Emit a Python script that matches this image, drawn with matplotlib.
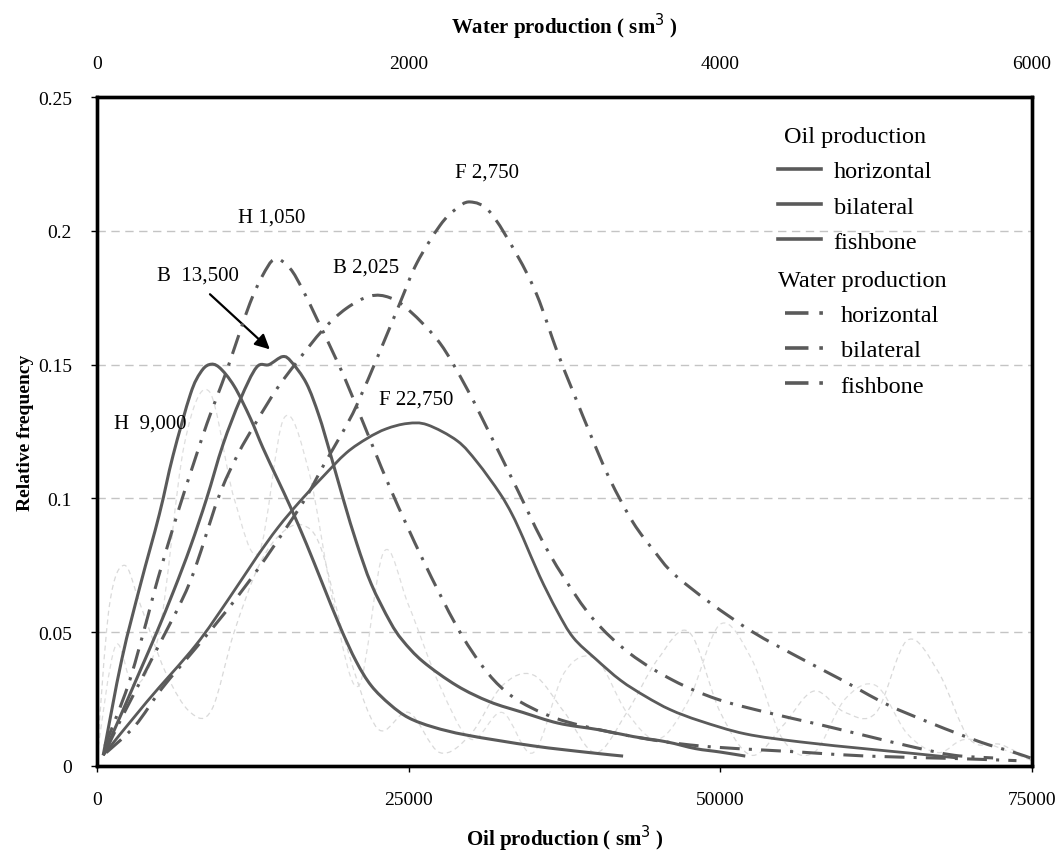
import numpy as np
import matplotlib.pyplot as plt
from matplotlib.lines import Line2D
from matplotlib.path import Path
from matplotlib.patches import PathPatch

plt.rcParams['font.family'] = ['Liberation Serif', 'DejaVu Serif']

# oil production curves (bottom axis, sm3)
oil_h_x = [500, 2000, 3500, 5000, 6100, 7500, 8300, 9000, 9800, 11000, 12300, 13300, 14500, 15500,
           16800, 18100, 19500, 20800, 22000, 23500, 25000, 27000, 29700, 35000, 39500, 42200]
oil_h_y = [0.004, 0.040, 0.068, 0.094, 0.116, 0.139, 0.147, 0.150, 0.149, 0.142, 0.130, 0.119, 0.107, 0.097,
           0.083, 0.068, 0.052, 0.039, 0.030, 0.023, 0.018, 0.0145, 0.0115, 0.0075, 0.005, 0.0037]

oil_b_x = [500, 2100, 3500, 4800, 6200, 7500, 8800, 10100, 11500, 12800, 13800, 14900, 15600, 16800,
           17800, 18700, 19800, 20850, 22000, 23500, 24500, 26150, 28870, 31500, 34170, 37000, 40300,
           43000, 45700, 48000, 50000, 52000]
oil_b_y = [0.004, 0.021, 0.036, 0.050, 0.066, 0.082, 0.100, 0.120, 0.137, 0.149, 0.150, 0.153, 0.151, 0.143,
           0.131, 0.117, 0.099, 0.083, 0.068, 0.054, 0.047, 0.039, 0.030, 0.024, 0.020, 0.016, 0.0135,
           0.011, 0.009, 0.0065, 0.0052, 0.0037]

oil_f_x = [500, 4000, 7900, 10500, 12800, 14500, 16300, 18100, 20000, 21700, 23200, 24900, 26500, 28900,
           30500, 32300, 33300, 34200, 35500, 36900, 38200, 40000, 42000, 44000, 46000, 48400, 52000, 56400,
           61700, 65000, 69000]
oil_f_y = [0.004, 0.024, 0.045, 0.062, 0.078, 0.089, 0.099, 0.108, 0.117, 0.1225, 0.126, 0.128, 0.1275, 0.1215,
           0.1135, 0.102, 0.094, 0.085, 0.071, 0.058, 0.048, 0.040, 0.032, 0.026, 0.021, 0.0168, 0.012, 0.009,
           0.0064, 0.0049, 0.003]

# water production curves (top axis, sm3)
wat_h_x = [51, 199, 308, 391, 520, 620, 706, 770, 834, 910, 982, 1060, 1142, 1238, 1320, 1412, 1559,
           1668, 1880, 2092, 2310, 2477, 2620, 2779, 3016, 3440, 3869, 4511, 4941, 5500, 5900]
wat_h_y = [0.0075, 0.030, 0.052, 0.070, 0.095, 0.113, 0.128, 0.138, 0.148, 0.161, 0.173, 0.183, 0.1895,
           0.186, 0.178, 0.167, 0.149, 0.134, 0.104, 0.077, 0.052, 0.037, 0.028, 0.022, 0.0165, 0.011, 0.0075,
           0.0052, 0.0037, 0.0028, 0.002]

wat_b_x = [60, 167, 385, 597, 776, 900, 1027, 1155, 1283, 1450, 1600, 1752, 1880, 2008, 2201, 2374, 2522,
           2700, 2850, 2990, 3183, 3420, 3697, 3978, 4299, 4620, 4941, 5236, 5500, 5750]
wat_b_y = [0.006, 0.019, 0.0437, 0.0688, 0.0998, 0.116, 0.129, 0.141, 0.151, 0.163, 0.171, 0.1756, 0.175,
           0.170, 0.158, 0.141, 0.124, 0.103, 0.085, 0.071, 0.055, 0.042, 0.032, 0.025, 0.020, 0.0157,
           0.0112, 0.0071, 0.004, 0.003]

wat_f_x = [60, 244, 417, 629, 841, 1033, 1226, 1348, 1460, 1579, 1668, 1816, 1944, 2053, 2201, 2300, 2394,
           2522, 2695, 2823, 2952, 3054, 3180, 3292, 3440, 3580, 3697, 3934, 4210, 4490, 4768, 5069, 5365,
           5666, 5878, 5990]
wat_f_y = [0.005, 0.015, 0.029, 0.0437, 0.0587, 0.0736, 0.090, 0.101, 0.113, 0.125, 0.135, 0.155, 0.173,
           0.188, 0.202, 0.208, 0.2108, 0.207, 0.191, 0.176, 0.155, 0.140, 0.122, 0.107, 0.091, 0.080, 0.072,
           0.061, 0.050, 0.041, 0.0325, 0.023, 0.0157, 0.009, 0.0052, 0.003]

# faint raw frequency traces in the background (oil axis)
faint1_x = [0, 1000, 2200, 3500, 5500, 7500, 9200, 11000, 13000, 14800, 16500, 18000, 20000, 22500, 25000,
            27500, 30000, 32500, 35000, 37500, 40000, 42500, 45000, 47500, 50000, 52500, 55000, 57500,
            60000, 62500, 65000, 67500, 70000, 72500, 75000]
faint1_y = [0.004, 0.06, 0.075, 0.06, 0.035, 0.02, 0.021, 0.05, 0.075, 0.087, 0.09, 0.081, 0.045, 0.014, 0.02,
            0.005, 0.012, 0.03, 0.034, 0.02, 0.005, 0.02, 0.04, 0.05, 0.02, 0.004, 0.015, 0.028,
            0.02, 0.02, 0.047, 0.035, 0.01, 0.008, 0.002]
faint2_x = [0, 1500, 3000, 5000, 7000, 9000, 11000, 13000, 15000, 17000, 19000, 21000, 23000, 25000, 27500,
            30000, 32500, 35000, 37500, 40000, 42500, 45000, 47500, 50000, 52500, 55000, 57500, 60000,
            62500, 65000, 67500, 70000, 75000]
faint2_y = [0.004, 0.045, 0.03, 0.05, 0.12, 0.14, 0.10, 0.08, 0.13, 0.11, 0.06, 0.03, 0.08, 0.06, 0.03,
            0.01, 0.02, 0.005, 0.035, 0.04, 0.02, 0.01, 0.025, 0.053, 0.04, 0.01, 0.005, 0.025,
            0.03, 0.012, 0.005, 0.01, 0.002]

oil_ticks = [0, 25000, 50000, 75000]
wat_ticks = [0, 2000, 4000, 6000]
y_ticks = [0, 0.05, 0.1, 0.15, 0.2, 0.25]
y_tick_labels = ['0', '0.05', '0.1', '0.15', '0.2', '0.25']

peak_labels = [('H  9,000', 4250, 0.128), ('B  13,500', 8100, 0.1835), ('H 1,050', 14030, 0.205),
               ('B 2,025', 21570, 0.1865), ('F 2,750', 31280, 0.222), ('F 22,750', 25580, 0.137)]

line_col = '#5a5a5a'
dashdot = (0, (6.5, 3, 1, 3))


def smooth_line(a, xs, ys, **kw):
    # Excel-style smoothed line: Catmull-Rom segments drawn as cubic Beziers
    p = np.column_stack([xs, ys]).astype(float)
    ext = np.vstack([p[0], p, p[-1]])
    verts = [p[0]]
    codes = [Path.MOVETO]
    for i in range(len(p) - 1):
        p0, p1, p2, p3 = ext[i], ext[i + 1], ext[i + 2], ext[i + 3]
        verts += [p1 + (p2 - p0) / 6, p2 - (p3 - p1) / 6, p2]
        codes += [Path.CURVE4] * 3
    a.add_patch(PathPatch(Path(verts, codes), fill=False, capstyle='butt', **kw))


fig = plt.figure(figsize=(10.62, 8.54), dpi=100)
ax = fig.add_axes([0.0913, 0.1019, 0.8805, 0.7833])

smooth_line(ax, faint1_x, faint1_y, edgecolor='#d9d9d9', lw=0.9, ls=(0, (4, 3)))
smooth_line(ax, faint2_x, faint2_y, edgecolor='#dedede', lw=0.9, ls=(0, (4, 3)))

smooth_line(ax, oil_h_x, oil_h_y, edgecolor=line_col, lw=2.2)
smooth_line(ax, oil_b_x, oil_b_y, edgecolor=line_col, lw=2.2)
smooth_line(ax, oil_f_x, oil_f_y, edgecolor=line_col, lw=2.0)

ax.set_xlim(0, 75000)
ax.set_ylim(0, 0.25)
ax.set_xticks(oil_ticks)
ax.set_xticklabels([str(t) for t in oil_ticks])
ax.set_yticks(y_ticks)
ax.set_yticklabels(y_tick_labels)
ax.tick_params(axis='both', labelsize=14, length=4, width=1)
ax.tick_params(axis='x', pad=14)
ax.tick_params(axis='y', pad=14)
for yv in y_ticks[1:-1]:
    ax.axhline(yv, color='#c4c4c4', lw=1, ls=(0, (6, 4)), zorder=0)

ax.set_xlabel('Oil production ( sm$^3$ )', fontsize=15, fontweight='bold', labelpad=11)
ax.set_ylabel('Relative frequency', fontsize=14, fontweight='bold', labelpad=3)

ax2 = ax.twiny()
smooth_line(ax2, wat_h_x, wat_h_y, edgecolor=line_col, lw=2.2, ls=dashdot)
smooth_line(ax2, wat_b_x, wat_b_y, edgecolor=line_col, lw=2.2, ls=dashdot)
smooth_line(ax2, wat_f_x, wat_f_y, edgecolor=line_col, lw=2.2, ls=dashdot)
ax2.set_xlim(0, 6000)
ax2.set_xticks(wat_ticks)
ax2.set_xticklabels([str(t) for t in wat_ticks])
ax2.tick_params(axis='x', labelsize=14, length=0, pad=18)
ax2.set_xlabel('Water production ( sm$^3$ )', fontsize=15, fontweight='bold', labelpad=16)

for a in (ax, ax2):
    for s in a.spines.values():
        s.set_linewidth(2.4)
        s.set_color('black')

for txt, xv, yv in peak_labels:
    ax.text(xv, yv, txt, fontsize=15, ha='center', va='center')
ax.annotate('', xy=(14030, 0.155), xytext=(8900, 0.177),
            arrowprops=dict(arrowstyle='-|>', color='black', lw=1.6, mutation_scale=22))

oil_handles = [Line2D([], [], color=line_col, lw=2.6) for _ in range(3)]
wat_handles = [Line2D([], [], color=line_col, lw=2.6, ls=dashdot) for _ in range(3)]
names = ['horizontal', 'bilateral', 'fishbone']

leg_kw = dict(loc='upper left', frameon=False, fontsize=17.5, title_fontsize=17.5, alignment='center',
              handlelength=1.8, handletextpad=0.5, labelspacing=0.55, borderpad=0, borderaxespad=0)
leg1 = ax2.legend(oil_handles, names, title='Oil production', bbox_to_anchor=(0.728, 0.957), **leg_kw)
ax2.add_artist(leg1)
ax2.legend(wat_handles, names, title='Water production', bbox_to_anchor=(0.728, 0.742), **leg_kw)

fig.savefig('out.png', dpi=100)
